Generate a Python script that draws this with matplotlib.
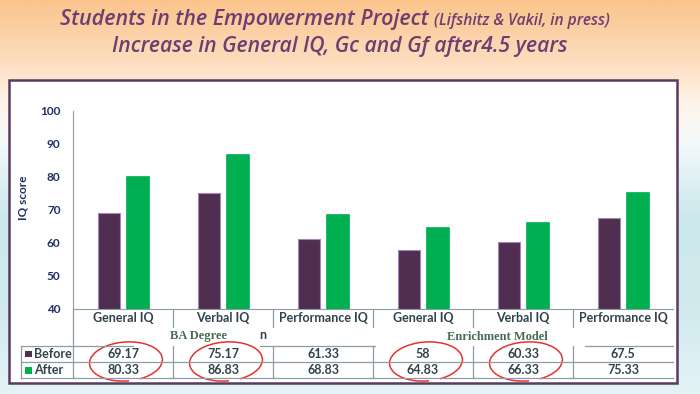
import numpy as np
import matplotlib.pyplot as plt
from matplotlib.colors import LinearSegmentedColormap
from matplotlib.patches import Rectangle, Arc

# data
categories = ['General IQ', 'Verbal IQ', 'Performance IQ',
              'General IQ', 'Verbal IQ', 'Performance IQ']
before = [69.17, 75.17, 61.33, 58, 60.33, 67.5]
after = [80.33, 86.83, 68.83, 64.83, 66.33, 75.33]
groups = ['BA Degree', 'Enrichment Model']
series = ['Before', 'After']
circled = [0, 1, 3, 4]   # columns marked with red rings
yticks = [40, 50, 60, 70, 80, 90, 100]

W, H = 700, 394
c_before = '#4f2e50'
c_after = '#00b050'
c_title = '#6b3f72'
c_tab = '#2f434b'
c_navy = '#1f2f63'
c_line = '#8d9ca2'

fig = plt.figure(figsize=(W / 100, H / 100), dpi=100)

# background gradient
bg = fig.add_axes([0, 0, 1, 1], zorder=0)
cmap = LinearSegmentedColormap.from_list('bg', [(0, '#fbc48c'), (0.15, '#fddcbd'),
                                                (0.26, '#fef4ea'), (0.36, '#f3f9fa'),
                                                (0.55, '#cde8ec'), (0.75, '#cfe9ed'),
                                                (1, '#e3f3f6')])
bg.imshow(np.linspace(0, 1, 256)[:, None], aspect='auto', cmap=cmap,
          extent=[0, 1, 0, 1], origin='upper')
bg.axis('off')

# overlay in pixel coords
ov = fig.add_axes([0, 0, 1, 1], zorder=1)
ov.set_xlim(0, W)
ov.set_ylim(H, 0)
ov.axis('off')
ov.patch.set_alpha(0)
ov.add_patch(Rectangle((9, 80), 668, 303, facecolor='white', edgecolor='#5a3a5e', lw=1.8))

# bars
x0, x1, ytop, ybot = 73, 673, 110.7, 309
ax = fig.add_axes([x0 / W, 1 - ybot / H, (x1 - x0) / W, (ybot - ytop) / H], zorder=2)
ax.patch.set_alpha(0)
x = np.arange(len(categories))
ax.bar(x - 0.14, before, width=0.22, color=c_before, edgecolor='#a485bd', lw=0.8)
ax.bar(x + 0.145, after, width=0.23, color=c_after, edgecolor=c_after, lw=0.5)
ax.set_xlim(-0.5, len(categories) - 0.5)
ax.set_ylim(40, 100)
ax.set_yticks(yticks)
ax.set_xticks([])
ax.tick_params(axis='y', length=0, pad=9, labelsize=8.5, labelcolor=c_navy)
for t in ax.get_yticklabels():
    t.set_fontweight('bold')
    t.set_family('Lato')
for s in ['top', 'right']:
    ax.spines[s].set_visible(False)
ax.spines['left'].set_color('#9a9a9a')
ax.spines['bottom'].set_color(c_line)
ov.text(23, 198, 'IQ score', fontsize=8.5, fontweight='bold', color=c_navy,
        family='Lato', rotation=90, ha='center', va='center')

# table below the plot
col_w = (x1 - x0) / len(categories)
tk = dict(color=c_line, lw=0.9)
ov.plot([x0, x0], [ybot, 378], **tk)
ov.plot([21, 21], [346, 378], **tk)
for xs in [(21, 133), (260, 375), (585, x1)]:
    ov.plot(xs, [346, 346], **tk)
for yy in [362, 378]:
    ov.plot([21, x1], [yy, yy], **tk)
for i in range(1, len(categories)):
    xc = x0 + i * col_w
    ov.plot([xc, xc], [ybot, 327], **tk)
    ov.plot([xc, xc], [346, 378], **tk)

tkw = dict(fontsize=9, fontweight='bold', color=c_tab, family='Lato',
           ha='center', va='center')
for i, cat in enumerate(categories):
    xc = x0 + (i + 0.5) * col_w
    ov.text(xc, 318, cat, **tkw)
    ov.text(xc, 354, f'{before[i]:g}', **tkw)
    ov.text(xc, 370.5, f'{after[i]:g}', **tkw)

for yy, lab, col in [(354, series[0], c_before), (370.5, series[1], c_after)]:
    ov.add_patch(Rectangle((25, yy - 3.5), 6.5, 6.5, facecolor=col, edgecolor='none'))
    ov.text(34, yy, lab, fontsize=9, fontweight='bold', color=c_tab, family='Lato',
            va='center', ha='left')

gkw = dict(fontsize=9, fontweight='bold', color='#4a6a55', family='Liberation Serif',
           ha='center', va='center')
ov.text(198, 336.5, groups[0], **gkw)
ov.text(497, 336.5, groups[1], **gkw)
ov.text(263, 335, 'n', fontsize=9, fontweight='bold', color=c_tab, family='Lato',
        ha='center', va='center')

for i in circled:
    xc = x0 + (i + 0.5) * col_w + 3
    ov.add_patch(Arc((xc, 361.5), 73, 39, angle=-4, theta1=-275, theta2=55,
                     color='#e4332f', lw=1.1))

# title
tkw = dict(color=c_title, style='italic', fontweight='semibold', family='Open Sans',
           va='baseline')
ov.text(60, 25, 'Students in the Empowerment Project', fontsize=15.5, ha='left', **tkw)
ov.text(434, 25, '(Lifshitz & Vakil, in press)', fontsize=11.2, ha='left', **tkw)
ov.text(340, 52, 'Increase in General IQ, Gc and Gf after4.5 years', fontsize=15.2,
        ha='center', **tkw)

fig.savefig('out.png', dpi=100)
